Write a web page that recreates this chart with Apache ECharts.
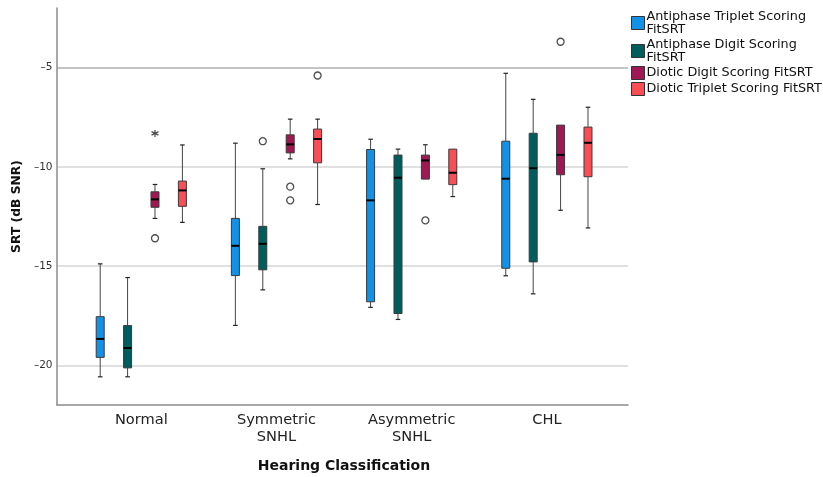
<!DOCTYPE html>
<html>
<head>
<meta charset="utf-8">
<script src="https://cdn.jsdelivr.net/npm/echarts@6/dist/echarts.min.js"></script>
<style>html,body{margin:0;padding:0;background:#fff;}#chart{width:823px;height:477px;}</style>
</head>
<body>
<div id="chart"></div>
<script>
// ---- data ----
const categories = ['Normal', 'Symmetric\nSNHL', 'Asymmetric\nSNHL', 'CHL'];
const seriesNames = [
  'Antiphase Triplet Scoring\nFitSRT',
  'Antiphase Digit Scoring\nFitSRT',
  'Diotic Digit Scoring FitSRT',
  'Diotic Triplet Scoring FitSRT'
];
const seriesColors = ['#1192e8', '#005d5d', '#9f1853', '#fa4d56'];
// [min, Q1, median, Q3, max] per category
const antiphaseTriplet = [[-20.58, -19.6, -18.67, -17.55, -14.89], [-17.99, -15.48, -13.98, -12.6, -8.81], [-17.08, -16.8, -11.69, -9.13, -8.61], [-15.49, -15.11, -10.6, -8.71, -5.29]];
const antiphaseDigit   = [[-20.58, -20.13, -19.13, -18.0, -15.58], [-16.2, -15.19, -13.88, -13.0, -10.1], [-17.69, -17.39, -10.55, -9.41, -9.11], [-16.4, -14.79, -10.07, -8.31, -6.6]];
const dioticDigit      = [[-12.6, -12.04, -11.64, -11.26, -10.89], [-9.6, -9.3, -8.87, -8.39, -7.6], [-10.62, -10.62, -9.68, -9.41, -8.89], [-12.19, -10.4, -9.4, -7.9, -7.9]];
const dioticTriplet    = [[-12.8, -11.99, -11.19, -10.72, -8.9], [-11.9, -9.8, -8.6, -8.1, -7.6], [-11.5, -10.9, -10.3, -9.11, -9.11], [-13.08, -10.5, -8.79, -8.0, -7.0]];
// outliers: [categoryIndex, value]
const antiphaseTripletOutliers = [];
const antiphaseDigitOutliers = [[1, -8.71]];
const dioticDigitOutliers = [[0, -13.6], [1, -11.0], [1, -11.69], [2, -12.7], [3, -3.7]];
const dioticTripletOutliers = [[1, -5.4]];
// extreme values (*)
const dioticDigitExtremes = [[0, -8.32]];
const yTicks = [-20, -15, -10, -5];

// ---- chart ----
const boxSets = [antiphaseTriplet, antiphaseDigit, dioticDigit, dioticTriplet];
const outlierSets = [antiphaseTripletOutliers, antiphaseDigitOutliers, dioticDigitOutliers, dioticTripletOutliers];
const extremeSets = [[], [], dioticDigitExtremes, []];
const groupStep = 0.2027; // offset between boxes in a group (axis units)
const offsetOf = k => (k - 1.5) * groupStep;

function makeRender(k) {
  return function (params, api) {
    const c = api.value(0) + offsetOf(k);
    const pMin = api.coord([c, api.value(1)]);
    const pQ1 = api.coord([c, api.value(2)]);
    const pMed = api.coord([c, api.value(3)]);
    const pQ3 = api.coord([c, api.value(4)]);
    const pMax = api.coord([c, api.value(5)]);
    const x = pMin[0];
    const hw = 4;
    const cw = 2.3;
    const ch = [];
    if (pMax[1] < pQ3[1] - 0.5) {
      ch.push({ type: 'line', shape: { x1: x, y1: pQ3[1], x2: x, y2: pMax[1] }, style: { stroke: '#444', lineWidth: 1 } });
      ch.push({ type: 'line', shape: { x1: x - cw, y1: pMax[1], x2: x + cw, y2: pMax[1] }, style: { stroke: '#222', lineWidth: 1.2 } });
    }
    if (pMin[1] > pQ1[1] + 0.5) {
      ch.push({ type: 'line', shape: { x1: x, y1: pQ1[1], x2: x, y2: pMin[1] }, style: { stroke: '#444', lineWidth: 1 } });
      ch.push({ type: 'line', shape: { x1: x - cw, y1: pMin[1], x2: x + cw, y2: pMin[1] }, style: { stroke: '#222', lineWidth: 1.2 } });
    }
    ch.push({ type: 'rect', shape: { x: x - hw, y: pQ3[1], width: hw * 2, height: pQ1[1] - pQ3[1] },
      style: { fill: seriesColors[k], stroke: '#3a3a3a', lineWidth: 1 } });
    ch.push({ type: 'line', shape: { x1: x - hw, y1: pMed[1], x2: x + hw, y2: pMed[1] }, style: { stroke: '#000', lineWidth: 2 } });
    return { type: 'group', children: ch };
  };
}

const series = [];
boxSets.forEach((set, k) => {
  series.push({
    type: 'custom',
    name: seriesNames[k],
    renderItem: makeRender(k),
    itemStyle: { color: seriesColors[k], borderColor: '#333', borderWidth: 1 },
    encode: { x: 0, y: [1, 2, 3, 4, 5] },
    data: set.map((d, i) => [i].concat(d)),
    z: 3
  });
});
outlierSets.forEach((set, k) => {
  if (!set.length) return;
  series.push({
    type: 'scatter',
    name: 'out' + k,
    symbol: 'circle',
    symbolSize: 7,
    itemStyle: { color: '#fff', borderColor: '#222', borderWidth: 1.3 },
    data: set.map(d => [d[0] + offsetOf(k), d[1]]),
    z: 4,
    silent: true
  });
});
extremeSets.forEach((set, k) => {
  if (!set.length) return;
  series.push({
    type: 'scatter',
    name: 'ext' + k,
    symbol: 'path://M0,-5L0,5M-4.33,-2.5L4.33,2.5M-4.33,2.5L4.33,-2.5',
    symbolSize: 7,
    itemStyle: { color: 'none', borderColor: '#222', borderWidth: 1.3 },
    data: set.map(d => [d[0] + offsetOf(k), d[1]]),
    z: 4,
    silent: true
  });
});

const chart = echarts.init(document.getElementById('chart'));
chart.setOption({
  animation: false,
  backgroundColor: '#fff',
  textStyle: { fontFamily: 'DejaVu Sans' },
  grid: { left: 57, right: 195, top: 8, bottom: 72, containLabel: false },
  legend: {
    data: seriesNames,
    orient: 'vertical',
    left: 626,
    top: 5,
    icon: 'rect',
    itemWidth: 13,
    itemHeight: 13,
    itemGap: 2,
    itemStyle: { borderColor: '#333', borderWidth: 1 },
    textStyle: { fontFamily: 'DejaVu Sans', fontSize: 12.8, lineHeight: 13, color: '#111', padding: [0, 0, 0, -3] },
    selectedMode: false
  },
  xAxis: {
    type: 'value',
    min: -0.6235,
    max: 3.6,
    axisLine: { show: true, onZero: false, lineStyle: { color: '#8c8c8c', width: 1.5 } },
    axisTick: { show: false },
    splitLine: { show: false },
    axisLabel: {
      customValues: [0, 1, 2, 3],
      formatter: v => categories[Math.round(v)],
      fontFamily: 'DejaVu Sans',
      fontSize: 14.6,
      lineHeight: 16.5,
      color: '#222',
      margin: 7
    }
  },
  yAxis: {
    type: 'value',
    min: -22,
    max: -2,
    name: 'SRT (dB SNR)',
    nameLocation: 'middle',
    nameGap: 28,
    nameTextStyle: { fontFamily: 'DejaVu Sans', fontWeight: 'bold', fontSize: 12.3, color: '#111' },
    axisLine: { show: true, onZero: false, lineStyle: { color: '#8c8c8c', width: 1.5 } },
    axisTick: { show: false, customValues: yTicks },
    axisLabel: {
      customValues: yTicks,
      formatter: v => String(v).replace('-', '\u2013'),
      fontFamily: 'DejaVu Sans', fontSize: 10.5, color: '#333', margin: 4.5
    },
    splitLine: { show: true, lineStyle: { color: ['#d6d6d6', '#d6d6d6', '#d6d6d6', '#b0b0b0'], width: 1.5 } }
  },
  graphic: [
    {
      type: 'text', x: 344, y: 466,
      style: { text: 'Hearing Classification', fontFamily: 'DejaVu Sans', fontWeight: 'bold', fontSize: 14, fill: '#111', align: 'center', verticalAlign: 'middle' }
    }
  ],
  series: series
});
</script>
</body>
</html>
